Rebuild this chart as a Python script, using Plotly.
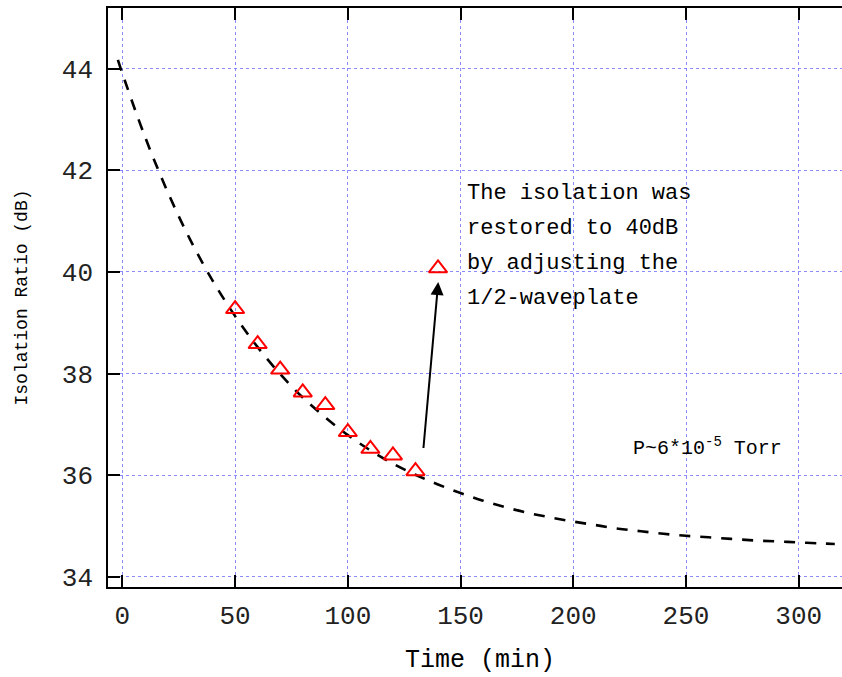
import plotly.graph_objects as go

# Measured isolation ratio (dB) versus elapsed time (min)
meas_time = [50, 60, 70, 80, 90, 100, 110, 120, 130, 140]
meas_iso = [39.27, 38.58, 38.08, 37.63, 37.38, 36.85, 36.52, 36.39, 36.08, 40.07]

# Decay trend line (dashed)
trend_time = [-2, 0, 10, 20, 30, 40, 50, 60, 70, 80, 90, 100, 110, 120, 130, 140,
              150, 160, 170, 180, 190, 200, 210, 220, 230, 240, 250, 260, 270, 280,
              290, 300, 310, 316]
trend_iso = [44.17, 43.90, 42.66, 41.58, 40.64, 39.83, 39.13, 38.52, 37.99, 37.53,
             37.14, 36.79, 36.49, 36.23, 36.01, 35.82, 35.65, 35.50, 35.37, 35.26,
             35.17, 35.09, 35.02, 34.95, 34.90, 34.85, 34.81, 34.78, 34.75, 34.72,
             34.70, 34.68, 34.66, 34.65]

x_ticks = [0, 50, 100, 150, 200, 250, 300]
y_ticks = [34, 36, 38, 40, 42, 44]

note_lines = ["The isolation was", "restored to 40dB", "by adjusting the", "1/2-waveplate"]
note_y = [41.54, 40.85, 40.17, 39.48]
note_x = 151.8

pressure_label = "P~6*10<sup>-5</sup> Torr"
x_title = "Time (min)"
y_title = "Isolation Ratio (dB)"

# Arrow from the last drifted point up to the restored value
arrow_tail = (133.2, 36.37)
arrow_head = (140.1, 39.80)

FONT = "Liberation Mono, Courier New, monospace"
GRID = "rgba(110,110,255,0.8)"

fig = go.Figure()

fig.add_trace(go.Scatter(
    x=trend_time, y=trend_iso, mode="lines", line_shape="spline",
    line=dict(color="black", width=2.6, dash="11px,10px"),
    showlegend=False, hoverinfo="skip"))

fig.add_trace(go.Scatter(
    x=meas_time, y=meas_iso, mode="markers",
    marker=dict(symbol="triangle-up-open", size=16, color="red",
                line=dict(color="red", width=2)),
    showlegend=False))

annotations = []
for txt, yy in zip(note_lines, note_y):
    annotations.append(dict(x=note_x, y=yy, xref="x", yref="y", text=txt,
                            showarrow=False, xanchor="left", yanchor="middle",
                            font=dict(family=FONT, size=22, color="black")))

annotations.append(dict(x=225.6, y=36.55, xref="x", yref="y", text=pressure_label,
                        showarrow=False, xanchor="left", yanchor="middle",
                        font=dict(family=FONT, size=20, color="black")))

annotations.append(dict(x=arrow_head[0], y=arrow_head[1], ax=arrow_tail[0], ay=arrow_tail[1],
                        xref="x", yref="y", axref="x", ayref="y", text=" ",
                        showarrow=True, arrowhead=2, arrowsize=1.3, arrowwidth=2,
                        arrowcolor="black", standoff=0, startstandoff=0))

# x-axis title placed below the tick labels, kept inside the page
annotations.append(dict(x=0.507, y=-0.1545, xref="paper", yref="paper", text=x_title,
                        showarrow=False, xanchor="center", yanchor="bottom", borderpad=0,
                        font=dict(family=FONT, size=25, color="black")))

fig.update_layout(
    width=842, height=677,
    margin=dict(l=108, r=0, t=8, b=90),
    paper_bgcolor="white", plot_bgcolor="white",
    font=dict(family=FONT, color="black"),
    annotations=annotations,
    xaxis=dict(
        range=[-6.39, 319.2], tickvals=x_ticks, ticks="inside", ticklen=12, tickwidth=1.5,
        tickcolor="black", showline=True, linecolor="black", linewidth=1.5, mirror="ticks",
        showgrid=True, gridcolor=GRID, griddash="dot", gridwidth=1, zeroline=False,
        tickfont=dict(family=FONT, size=26, color="#222"), ticklabelstandoff=4,
    ),
    yaxis=dict(
        range=[33.803, 45.19], tickvals=y_ticks, ticks="inside", ticklen=12, tickwidth=1.5,
        tickcolor="black", showline=True, linecolor="black", linewidth=1.5, mirror=False,
        showgrid=True, gridcolor=GRID, griddash="dot", gridwidth=1, zeroline=False,
        tickfont=dict(family=FONT, size=26, color="#222"), ticklabelstandoff=8,
        title=dict(text=y_title, font=dict(family=FONT, size=18), standoff=30),
    ),
)

fig.write_html("out.html")
